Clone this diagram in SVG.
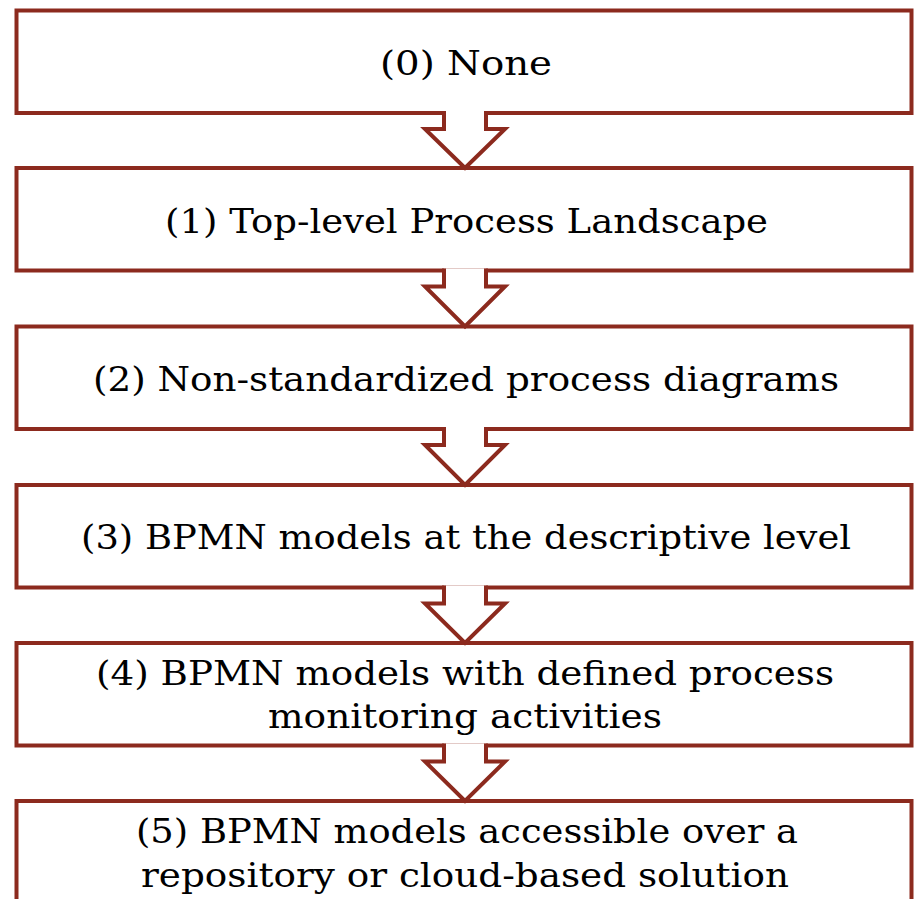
<svg xmlns="http://www.w3.org/2000/svg" width="914" height="899" viewBox="0 0 914 899">
  <style>
    .box { fill: #ffffff; stroke: #8c2a1e; stroke-width: 4; }
    .arrow { fill: #ffffff; stroke: #8c2a1e; stroke-width: 4; stroke-linejoin: miter; }
    .label { font-family: "DejaVu Serif", "Liberation Serif", serif; font-size: 34px; fill: #000000; }
  </style>
  <rect x="0" y="0" width="914" height="899" fill="#ffffff"/>

  <!-- stage boxes -->
  <g id="stage0">
    <rect class="box" x="16.5" y="10.5" width="895" height="102.5"/>
    <text class="label" x="380" y="75" textLength="172" lengthAdjust="spacingAndGlyphs">(0) None</text>
  </g>
  <g id="stage1">
    <rect class="box" x="16.5" y="168" width="895" height="102.5"/>
    <text class="label" x="165" y="233" textLength="603" lengthAdjust="spacingAndGlyphs">(1) Top-level Process Landscape</text>
  </g>
  <g id="stage2">
    <rect class="box" x="16.5" y="326.5" width="895" height="102.5"/>
    <text class="label" x="93" y="391" textLength="746" lengthAdjust="spacingAndGlyphs">(2) Non-standardized process diagrams</text>
  </g>
  <g id="stage3">
    <rect class="box" x="16.5" y="485" width="895" height="102.5"/>
    <text class="label" x="81" y="549" textLength="770" lengthAdjust="spacingAndGlyphs">(3) BPMN models at the descriptive level</text>
  </g>
  <g id="stage4">
    <rect class="box" x="16.5" y="643" width="895" height="102.5"/>
    <text class="label" x="96" y="684.5" textLength="738" lengthAdjust="spacingAndGlyphs">(4) BPMN models with defined process</text>
    <text class="label" x="268" y="728" textLength="394" lengthAdjust="spacingAndGlyphs">monitoring activities</text>
  </g>
  <g id="stage5">
    <rect class="box" x="16.5" y="801" width="895" height="130"/>
    <text class="label" x="136" y="843" textLength="662" lengthAdjust="spacingAndGlyphs">(5) BPMN models accessible over a</text>
    <text class="label" x="141" y="887" textLength="648" lengthAdjust="spacingAndGlyphs">repository or cloud-based solution</text>
  </g>

  <!-- block arrows between consecutive stages -->
  <g id="connectors">
    <path class="arrow" d="M444,111 V129 H425 L465,168 L505,129 H486 V111"/>
    <path class="arrow" d="M444,268.5 V286.5 H425 L465,326.5 L505,286.5 H486 V268.5"/>
    <path class="arrow" d="M444,427 V445 H425 L465,485 L505,445 H486 V427"/>
    <path class="arrow" d="M444,585.5 V603.5 H425 L465,643 L505,603.5 H486 V585.5"/>
    <path class="arrow" d="M444,743.5 V761.5 H425 L465,801 L505,761.5 H486 V743.5"/>
  </g>
</svg>
